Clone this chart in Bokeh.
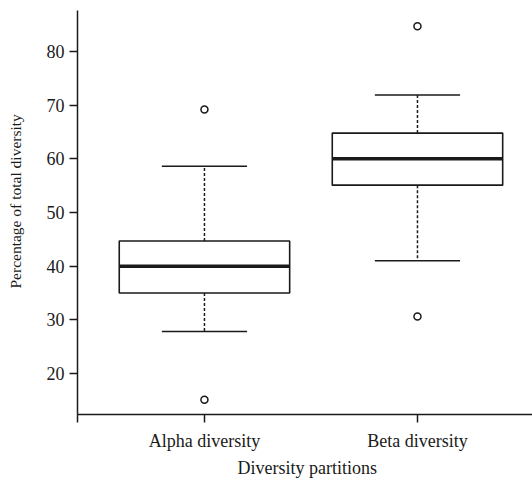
from bokeh.plotting import figure
from bokeh.models import FixedTicker, Range1d, CustomJSTickFormatter, Title, LinearAxis
from bokeh.embed import file_html
from bokeh.resources import INLINE

# ---- data ----
categories = ["Alpha diversity", "Beta diversity"]
positions = [1, 2]
q1 = [35.0, 55.1]
medians = [40.0, 60.0]
q3 = [44.7, 64.8]
whisker_low = [27.8, 41.0]
whisker_high = [58.6, 71.9]
outlier_group = [1, 1, 2, 2]
outlier_values = [69.2, 15.1, 84.7, 30.6]
y_ticks = [20, 30, 40, 50, 60, 70, 80]

# ---- styling / layout ----
BOX_W = 0.8
CAP_W = 0.4
INK = "#1a1a1a"
FONT = "Liberation Serif"
X_START, X_END = 0.404, 2.54
Y_START, Y_END = 12.35, 87.65
W, H = 532, 480
BL, BR, BT, BB = 77, 0, 10, 66

p = figure(width=W, height=H, output_backend="svg", toolbar_location=None,
           x_range=Range1d(X_START, X_END), y_range=Range1d(Y_START, Y_END),
           min_border_left=BL, min_border_right=BR, min_border_top=BT,
           min_border_bottom=BB)
p.outline_line_color = None
p.grid.visible = False
p.background_fill_color = "white"
p.border_fill_color = "white"

# y axis
ya = p.yaxis[0]
ya.ticker = FixedTicker(ticks=y_ticks)
ya.minor_tick_line_color = None
ya.major_tick_out = 8
ya.major_tick_in = 0
ya.axis_line_width = 1.5
ya.major_tick_line_width = 1.5
ya.axis_line_color = INK
ya.major_tick_line_color = INK
ya.major_label_text_font = FONT
ya.major_label_text_font_size = "18px"
ya.major_label_text_color = INK
ya.major_label_standoff = 5

# invisible spacer axis: reserves room between tick labels and the y title
spacer = LinearAxis(ticker=FixedTicker(ticks=y_ticks), axis_line_alpha=0,
                    major_tick_line_alpha=0, minor_tick_line_alpha=0,
                    major_tick_out=20, major_tick_in=0,
                    major_label_standoff=0,
                    formatter=CustomJSTickFormatter(code='return ""'))
p.add_layout(spacer, "left")

# x axis
xa = p.xaxis[0]
xa.ticker = FixedTicker(ticks=[X_START] + positions)
xa.formatter = CustomJSTickFormatter(args=dict(cats=categories, pos=positions), code="""
    for (let i = 0; i < pos.length; i++) { if (Math.abs(tick - pos[i]) < 1e-6) return cats[i]; }
    return "";
""")
xa.minor_tick_line_color = None
xa.major_tick_out = 8
xa.major_tick_in = 0
xa.axis_line_width = 1.5
xa.major_tick_line_width = 1.5
xa.axis_line_color = INK
xa.major_tick_line_color = INK
xa.major_label_text_font = FONT
xa.major_label_text_font_size = "18px"
xa.major_label_text_color = INK
xa.major_label_standoff = 8

# boxes
left = [x - BOX_W / 2 for x in positions]
right = [x + BOX_W / 2 for x in positions]
cap_l = [x - CAP_W / 2 for x in positions]
cap_r = [x + CAP_W / 2 for x in positions]

# whiskers (dashed)
p.segment(x0=positions, x1=positions, y0=q3, y1=whisker_high,
          line_color=INK, line_width=1.5, line_dash="3 2")
p.segment(x0=positions, x1=positions, y0=q1, y1=whisker_low,
          line_color=INK, line_width=1.5, line_dash="3 2")
# caps
p.segment(x0=cap_l, x1=cap_r, y0=whisker_high, y1=whisker_high,
          line_color=INK, line_width=1.5)
p.segment(x0=cap_l, x1=cap_r, y0=whisker_low, y1=whisker_low,
          line_color=INK, line_width=1.5)
# box
p.quad(left=left, right=right, bottom=q1, top=q3,
       fill_color="white", line_color=INK, line_width=1.6)
# medians
p.segment(x0=left, x1=right, y0=medians, y1=medians,
          line_color=INK, line_width=3.5)
# outliers
p.scatter(x=outlier_group, y=outlier_values, marker="circle", size=7,
          fill_color="white", line_color=INK, line_width=1.5)

# axis titles
p.add_layout(Title(text="Diversity partitions", align="left", offset=160,
                   text_font=FONT, text_font_size="18px", text_color=INK,
                   text_font_style="normal", standoff=3.6), "below")
p.add_layout(Title(text="Percentage of total diversity", align="left", offset=126,
                   vertical_align="bottom",
                   text_font=FONT, text_font_size="15.5px", text_color=INK,
                   text_font_style="normal", standoff=0), "left")

open("out.html", "w").write(file_html(p, INLINE))
